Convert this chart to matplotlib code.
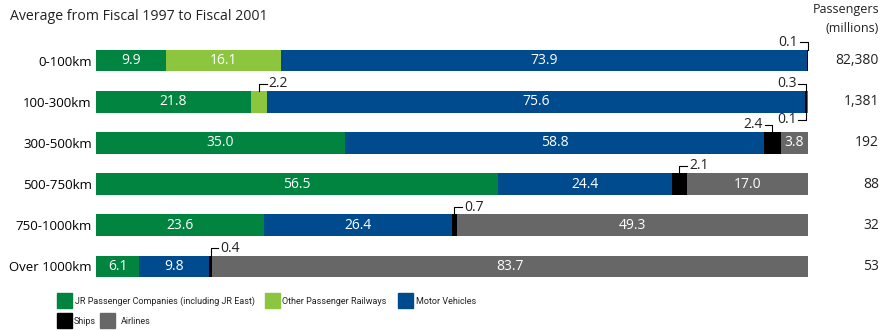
import matplotlib.pyplot as plt
import matplotlib.transforms as mtransforms
from matplotlib.patches import Rectangle
import numpy as np

plt.rcParams['font.family'] = ['Open Sans', 'DejaVu Sans']

distances = ["0-100km", "100-300km", "300-500km", "500-750km", "750-1000km", "Over 1000km"]
passengers = ["82,380", "1,381", "192", "88", "32", "53"]

jr = [9.9, 21.8, 35.0, 56.5, 23.6, 6.1]
other_rail = [16.1, 2.2, 0.0, 0.0, 0.0, 0.0]
motor = [73.9, 75.6, 58.8, 24.4, 26.4, 9.8]
ships = [0.1, 0.3, 2.4, 2.1, 0.7, 0.4]
airlines = [0.0, 0.1, 3.8, 17.0, 49.3, 83.7]

series = [
    ("JR Passenger Companies (including JR East)", jr, "#00843f"),
    ("Other Passenger Railways", other_rail, "#8cc63e"),
    ("Motor Vehicles", motor, "#004b8d"),
    ("Ships", ships, "#000000"),
    ("Airlines", airlines, "#676767"),
]

fig = plt.figure(figsize=(8.83, 3.31), dpi=100)
ax = fig.add_axes([96 / 883, 1 - 287 / 331, 712 / 883, 247 / 331])

y = np.arange(len(distances))
h = 0.53
left = np.zeros(len(distances))
lefts = []
for name, vals, col in series:
    vals = np.array(vals)
    bars = ax.barh(y, vals, left=left, height=h, color=col, label=name)
    labels = ["%.1f" % v if v >= 3.5 else "" for v in vals]
    ax.bar_label(bars, labels=labels, label_type="center", color="white", fontsize=10)
    lefts.append(left.copy())
    left = left + vals

ax.set_xlim(0, 100)
ax.set_ylim(len(distances) - 0.5, -0.5)
ax.set_yticks(y)
ax.set_yticklabels(distances, fontsize=9.5)
ax.tick_params(axis="y", length=0, pad=3)
ax.set_xticks([])
for s in ax.spines.values():
    s.set_visible(False)

# small-value callouts: (row, series index, above/below, text to left/right)
callouts = [
    (0, 3, -1, "left"),
    (1, 1, -1, "right"),
    (1, 3, -1, "left"),
    (1, 4, 1, "left"),
    (2, 3, -1, "left"),
    (3, 3, -1, "right"),
    (4, 3, -1, "right"),
    (5, 3, -1, "right"),
]
for row, si, vdir, side in callouts:
    val = series[si][1][row]
    xc = lefts[si][row] + val / 2
    if si == 4 and row == 1:
        xc = 99.75
    yb = row + vdir * h / 2
    yl = row + vdir * 0.44
    dx = 1.1 if side == "right" else -1.1
    ax.plot([xc, xc, xc + dx], [yb, yl, yl], color="black", lw=0.8, clip_on=False)
    ax.text(xc + dx * 1.2, yl, "%.1f" % val, ha="left" if side == "right" else "right",
            va="center", fontsize=10, color="#222222")

trans = mtransforms.blended_transform_factory(fig.transFigure, ax.transData)
for i, p in enumerate(passengers):
    ax.text(879 / 883, i, p, transform=trans, ha="right", va="center", fontsize=10, color="#222222")

fig.text(879 / 883, 1 - 10 / 331, "Passengers", ha="right", va="center", fontsize=9, color="#222222")
fig.text(879 / 883, 1 - 29 / 331, "(millions)", ha="right", va="center", fontsize=9, color="#222222")
fig.text(10 / 883, 1 - 16 / 331, "Average from Fiscal 1997 to Fiscal 2001", ha="left", va="center",
         fontsize=10.2, color="#222222")

# legend drawn by hand to keep the two-row arrangement; original uses a condensed face,
# so the font size is shrunk until the first entry fits the same width (181 px)
legend_pos = [(57, 300), (265, 300), (398, 300), (57, 320), (100, 320)]
text_gap = [3, 2, 3, 2, 6]
leg_texts = []
for (name, vals, col), (px, py), g in zip(series, legend_pos, text_gap):
    fig.add_artist(Rectangle((px / 883, 1 - (py + 7.5) / 331), 15 / 883, 15 / 331,
                             transform=fig.transFigure, color=col))
    t = fig.text((px + 15 + g) / 883, 1 - (py + 1) / 331, name, ha="left", va="center",
                 fontsize=10, color="#222222", family=["Roboto", "DejaVu Sans"])
    leg_texts.append(t)

r = fig.canvas.get_renderer()
w = leg_texts[0].get_window_extent(r).width
fs = 10 * 181 / w
for t in leg_texts:
    t.set_fontsize(fs)

fig.savefig("out.png", dpi=100)
